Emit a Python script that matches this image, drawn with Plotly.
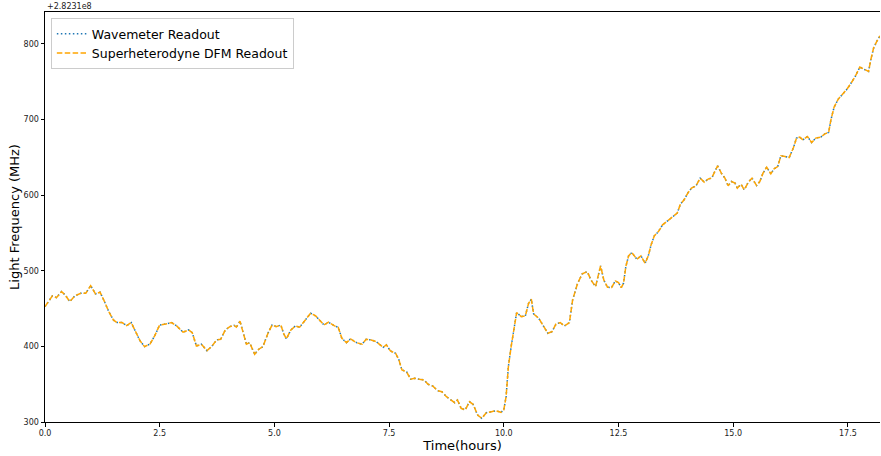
import plotly.graph_objects as go

# Elapsed time in hours
time_h = [
    0.0, 0.05, 0.16, 0.25, 0.36, 0.44, 0.54, 0.65, 0.78, 0.89, 0.995, 1.10, 1.20, 1.28, 1.39,
    1.49, 1.57, 1.68, 1.78, 1.88, 1.97, 2.07, 2.17, 2.29, 2.39, 2.50, 2.63, 2.76, 2.87, 3.01,
    3.13, 3.21, 3.30, 3.41, 3.53, 3.63, 3.74, 3.83, 3.93, 4.03, 4.12, 4.17, 4.25, 4.32, 4.39,
    4.46, 4.57, 4.66, 4.75, 4.86, 4.95, 5.04, 5.14, 5.20, 5.26, 5.36, 5.46, 5.55, 5.66, 5.79,
    5.90, 5.99, 6.08, 6.18, 6.31, 6.39, 6.47, 6.57, 6.66, 6.79, 6.91, 7.00, 7.11, 7.22, 7.29,
    7.37, 7.44, 7.53, 7.64, 7.71, 7.78, 7.88, 7.97, 8.06, 8.16, 8.26, 8.35, 8.45, 8.56, 8.65,
    8.75, 8.85, 8.93, 8.99, 9.07, 9.16, 9.25, 9.33, 9.43, 9.52, 9.62, 9.73, 9.83, 9.94, 10.00,
    10.05, 10.10, 10.16, 10.22, 10.28, 10.38, 10.47, 10.54, 10.60, 10.65, 10.76, 10.85, 10.96,
    11.05, 11.14, 11.23, 11.32, 11.43, 11.50, 11.61, 11.71, 11.82, 11.90, 12.00, 12.05, 12.11,
    12.18, 12.26, 12.35, 12.43, 12.50, 12.56, 12.61, 12.66, 12.72, 12.79, 12.90, 12.99, 13.08,
    13.15, 13.21, 13.28, 13.37, 13.46, 13.57, 13.68, 13.78, 13.85, 13.93, 14.01, 14.09, 14.19,
    14.28, 14.37, 14.46, 14.53, 14.59, 14.66, 14.75, 14.82, 14.89, 14.96, 15.04, 15.09, 15.17,
    15.24, 15.33, 15.41, 15.51, 15.58, 15.65, 15.73, 15.82, 15.89, 15.97, 16.04, 16.13, 16.22,
    16.31, 16.38, 16.45, 16.52, 16.62, 16.71, 16.80, 16.91, 17.00, 17.08, 17.13, 17.20, 17.29,
    17.38, 17.47, 17.56, 17.66, 17.76, 17.85, 17.95, 18.00, 18.06, 18.13, 18.20,
]

# Frequency relative to 2.8231e8 MHz, wavemeter
wavemeter_mhz = [
    452.5, 457.0, 466.7, 464.4, 472.4, 468.0, 459.1, 466.7, 470.2, 470.2, 480.3, 469.3, 471.6, 461.4, 445.9,
    434.9, 431.4, 431.4, 427.4, 431.4, 419.4, 407.5, 399.6, 403.2, 413.8, 428.3, 429.6, 431.4, 427.0, 418.7,
    421.7, 418.1, 400.5, 402.8, 394.3, 399.6, 408.5, 409.4, 421.7, 426.1, 427.9, 425.3, 433.2, 419.4, 402.8,
    404.9, 389.6, 396.2, 399.6, 417.3, 428.3, 426.1, 428.3, 417.3, 409.8, 421.7, 427.0, 425.3, 434.0, 443.8,
    440.2, 434.9, 428.3, 431.9, 427.0, 425.3, 410.7, 404.9, 409.8, 404.9, 402.8, 409.4, 408.5, 406.2, 403.2,
    398.8, 401.9, 393.9, 390.9, 382.9, 368.8, 366.5, 356.5, 357.8, 356.5, 355.6, 349.9, 347.6, 341.4, 340.1,
    333.5, 329.1, 325.5, 329.1, 318.1, 315.9, 326.9, 323.4, 309.3, 304.9, 312.3, 313.6, 314.9, 312.8, 315.9,
    333.5, 373.2, 399.6, 421.7, 444.6, 439.3, 440.2, 457.0, 462.3, 442.9, 437.2, 428.3, 417.3,
    419.4, 429.6, 431.4, 427.0, 431.4, 461.4, 483.5, 495.8, 498.8, 487.8, 479.0, 490.1, 506.4,
    487.8, 478.2, 477.7, 486.5, 484.3, 477.7, 483.5, 505.4, 519.6, 524.0, 515.2, 519.6, 509.9,
    519.6, 534.1, 546.0, 551.7, 560.6, 565.9, 571.6, 576.1, 588.0, 593.7, 602.5, 609.1, 612.2,
    622.4, 617.1, 621.4, 622.4, 629.8, 638.6, 628.1, 622.4, 612.2, 617.9, 615.8, 609.1, 614.4,
    606.9, 617.1, 622.4, 612.6, 617.9, 629.0, 636.9, 628.1, 634.7, 637.7, 651.9, 651.0, 649.6,
    662.1, 675.3, 676.6, 673.0, 677.4, 669.5, 675.3, 676.6, 681.0, 682.7, 699.5, 716.3, 726.9,
    732.6, 739.2, 747.1, 756.8, 769.2, 766.6, 763.4, 778.9, 794.3, 803.1, 810.6,
]

# Superheterodyne DFM readout tracks the wavemeter within the line width
dfm_mhz = list(wavemeter_mhz)

y_ticks = [300, 400, 500, 600, 700, 800]
x_ticks = [0.0, 2.5, 5.0, 7.5, 10.0, 12.5, 15.0, 17.5]

tick_font = dict(family="DejaVu Sans", size=8, color="#222")

fig = go.Figure()
fig.add_trace(go.Scatter(
    x=time_h, y=wavemeter_mhz, mode="lines", name="Wavemeter Readout",
    line=dict(color="#1f77b4", width=1.5, dash="1.5px,2.5px"),
))
fig.add_trace(go.Scatter(
    x=time_h, y=dfm_mhz, mode="lines", name="Superheterodyne DFM Readout",
    line=dict(color="#FFA500", width=1.5, dash="5.5px,2.4px"),
))

fig.update_layout(
    width=881, height=456,
    margin=dict(l=45, r=1, t=12, b=34),
    paper_bgcolor="white", plot_bgcolor="white",
    font=dict(family="DejaVu Sans", color="#000"),
    showlegend=True,
    legend=dict(
        x=0.007, y=0.985, xanchor="left", yanchor="top",
        bgcolor="rgba(255,255,255,0.8)", bordercolor="#cccccc", borderwidth=1,
        font=dict(family="DejaVu Sans", size=12.5, color="#000"),
        tracegroupgap=0, itemwidth=30,
    ),
    xaxis=dict(
        range=[0, 18.2], tickvals=x_ticks, ticktext=[f"{v:.1f}" for v in x_ticks],
        showgrid=False, zeroline=False,
        showline=True, linecolor="#000", linewidth=1, mirror=True,
        ticks="outside", ticklen=3.5, tickwidth=1, tickcolor="#000",
        tickfont=tick_font,
        title=dict(text="Time(hours)", font=dict(family="DejaVu Sans", size=13), standoff=1),
    ),
    yaxis=dict(
        range=[300, 842], tickvals=y_ticks,
        showgrid=False, zeroline=False,
        showline=True, linecolor="#000", linewidth=1,
        ticks="outside", ticklen=3.5, tickwidth=1, tickcolor="#000",
        tickfont=tick_font,
        title=dict(text="Light Frequency (MHz)", font=dict(family="DejaVu Sans", size=13), standoff=1),
    ),
)

# Axis offset label
fig.add_annotation(
    text="+2.8231e8", xref="paper", yref="paper", x=0, y=1,
    xanchor="left", yanchor="bottom", showarrow=False,
    font=dict(family="DejaVu Sans", size=8, color="#222"), yshift=-1,
)

fig.write_html("out.html")
